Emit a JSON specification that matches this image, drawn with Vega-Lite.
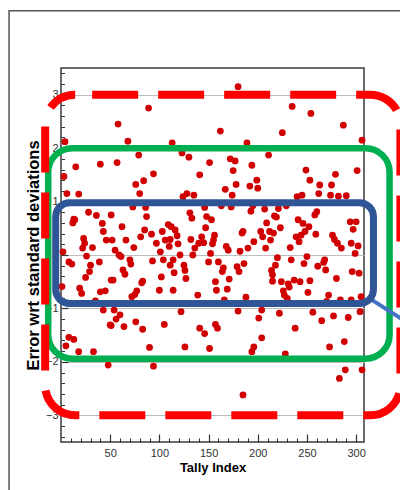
{
  "$schema": "https://vega.github.io/schema/vega-lite/v6.json",
  "width": 303,
  "height": 374,
  "autosize": {"type": "none"},
  "padding": {"left": 61, "top": 68, "right": 36, "bottom": 48},
  "background": "white",
  "config": {
    "view": {"stroke": "#3a3a3a", "strokeWidth": 1.5},
    "font": "Liberation Sans"
  },
  "resolve": {"axis": {"x": "independent", "y": "independent"}},
  "layer": [
    {
      "data": {"values": [{"name": "frame", "x1": -52.8, "x2": 365, "y1": 4.57, "y2": -4.8}]},
      "mark": {"type": "rect", "fillOpacity": 0, "stroke": "#555555", "strokeWidth": 1.5},
      "encoding": {
        "x": {"field": "x1", "type": "quantitative", "scale": {"domain": [0, 308], "nice": false, "zero": false},
          "axis": {"orient": "bottom", "values": [10,20,30,40,60,70,80,90,110,120,130,140,160,170,180,190,210,220,230,240,260,270,280,290], "tickSize": -4, "tickColor": "#333", "labels": false, "domain": false, "grid": false, "title": null}},
        "x2": {"field": "x2"},
        "y": {"field": "y1", "type": "quantitative", "scale": {"domain": [-3.5, 3.5], "nice": false, "zero": false},
          "axis": {"orient": "left", "values": [-3.4,-3.2,-2.8,-2.6,-2.4,-2.2,-1.8,-1.6,-1.4,-1.2,-0.8,-0.6,-0.4,-0.2,0.2,0.4,0.6,0.8,1.2,1.4,1.6,1.8,2.2,2.4,2.6,2.8,3.2,3.4], "tickSize": -3.5, "tickColor": "#333", "labels": false, "domain": false, "grid": false, "title": null}},
        "y2": {"field": "y2"}
      }
    },
    {
      "data": {"values": [
        {"tally":4,"error":2.12},{"tally":15,"error":1.65},{"tally":40,"error":1.70},{"tally":3,"error":1.47},{"tally":6,"error":1.15},{"tally":18,"error":1.14},{"tally":28,"error":0.80},{"tally":13,"error":0.67},{"tally":12,"error":0.60},{"tally":14,"error":0.66},{"tally":36,"error":0.74},{"tally":42,"error":0.59},{"tally":43,"error":0.44},{"tally":23,"error":0.31},{"tally":24,"error":0.22},{"tally":22,"error":0.13},{"tally":46,"error":0.28},{"tally":32,"error":0.14},{"tally":2,"error":0.06},{"tally":8,"error":-0.13},{"tally":11,"error":-0.17},{"tally":26,"error":-0.02},{"tally":30,"error":-0.19},{"tally":39,"error":-0.13},{"tally":29,"error":-0.31},{"tally":25,"error":-0.42},{"tally":1,"error":-0.59},{"tally":19,"error":-0.62},{"tally":21,"error":-0.72},{"tally":40,"error":-0.69},{"tally":35,"error":-0.86},{"tally":45,"error":-0.67},{"tally":43,"error":-1.03},{"tally":50,"error":-1.31},{"tally":8,"error":-1.54},{"tally":13,"error":-1.58},{"tally":5,"error":-1.70},{"tally":18,"error":-1.81},{"tally":33,"error":-1.81},{"tally":48,"error":-2.06},{"tally":51,"error":-0.47},{"tally":51,"error":0.75},
        {"tally":89,"error":2.75},{"tally":58,"error":2.45},{"tally":68,"error":2.13},{"tally":79,"error":1.87},{"tally":57,"error":1.73},{"tally":94,"error":1.52},{"tally":76,"error":1.32},{"tally":84,"error":1.39},{"tally":80,"error":1.15},{"tally":73,"error":0.90},{"tally":86,"error":0.89},{"tally":87,"error":0.72},{"tally":62,"error":0.53},{"tally":85,"error":0.47},{"tally":52,"error":0.28},{"tally":66,"error":0.28},{"tally":81,"error":0.34},{"tally":92,"error":0.39},{"tally":74,"error":0.14},{"tally":55,"error":0.09},{"tally":59,"error":0.00},{"tally":61,"error":-0.03},{"tally":97,"error":0.22},{"tally":101,"error":0.06},{"tally":93,"error":-0.11},{"tally":70,"error":-0.09},{"tally":71,"error":-0.17},{"tally":63,"error":-0.28},{"tally":65,"error":-0.36},{"tally":53,"error":-0.47},{"tally":83,"error":-0.49},{"tally":82,"error":-0.52},{"tally":77,"error":-0.67},{"tally":75,"error":-0.74},{"tally":72,"error":-0.78},{"tally":100,"error":-0.66},{"tally":54,"error":-1.03},{"tally":60,"error":-1.12},{"tally":56,"error":-1.20},{"tally":51,"error":-1.32},{"tally":64,"error":-1.34},{"tally":76,"error":-1.25},{"tally":83,"error":-1.39},{"tally":90,"error":-1.73},{"tally":94,"error":-2.08},
        {"tally":113,"error":2.10},{"tally":123,"error":1.91},{"tally":130,"error":1.83},{"tally":151,"error":1.73},{"tally":141,"error":1.50},{"tally":128,"error":1.15},{"tally":124,"error":1.09},{"tally":135,"error":1.12},{"tally":146,"error":0.89},{"tally":131,"error":0.79},{"tally":133,"error":0.69},{"tally":148,"error":0.72},{"tally":109,"error":0.57},{"tally":112,"error":0.53},{"tally":116,"error":0.47},{"tally":103,"error":0.44},{"tally":106,"error":0.28},{"tally":118,"error":0.36},{"tally":119,"error":0.21},{"tally":111,"error":0.29},{"tally":110,"error":0.16},{"tally":147,"error":0.51},{"tally":143,"error":0.34},{"tally":140,"error":0.22},{"tally":145,"error":0.23},{"tally":132,"error":0.29},{"tally":136,"error":0.13},{"tally":134,"error":0.00},{"tally":121,"error":0.00},{"tally":104,"error":-0.09},{"tally":114,"error":-0.09},{"tally":111,"error":-0.19},{"tally":125,"error":-0.19},{"tally":126,"error":-0.29},{"tally":127,"error":-0.44},{"tally":150,"error":-0.13},{"tally":115,"error":-0.33},{"tally":102,"error":-0.41},{"tally":114,"error":-0.66},{"tally":139,"error":-0.75},{"tally":122,"error":-1.06},{"tally":105,"error":-1.30},{"tally":141,"error":-1.37},{"tally":146,"error":-1.47},{"tally":126,"error":-1.72},{"tally":151,"error":-1.75},
        {"tally":180,"error":3.15},{"tally":162,"error":2.32},{"tally":189,"error":2.10},{"tally":172,"error":1.80},{"tally":177,"error":1.76},{"tally":194,"error":1.68},{"tally":175,"error":1.58},{"tally":199,"error":1.40},{"tally":167,"error":1.23},{"tally":178,"error":1.32},{"tally":192,"error":1.29},{"tally":200,"error":1.25},{"tally":174,"error":1.12},{"tally":173,"error":0.90},{"tally":193,"error":0.82},{"tally":195,"error":0.92},{"tally":163,"error":0.92},{"tally":153,"error":0.66},{"tally":185,"error":0.44},{"tally":184,"error":0.41},{"tally":156,"error":0.37},{"tally":155,"error":0.28},{"tally":154,"error":0.21},{"tally":196,"error":0.25},{"tally":190,"error":0.13},{"tally":168,"error":0.16},{"tally":170,"error":0.09},{"tally":182,"error":0.07},{"tally":152,"error":0.03},{"tally":160,"error":-0.13},{"tally":165,"error":-0.24},{"tally":164,"error":-0.31},{"tally":179,"error":-0.22},{"tally":181,"error":-0.31},{"tally":186,"error":-0.16},{"tally":171,"error":-0.45},{"tally":157,"error":-0.50},{"tally":158,"error":-0.66},{"tally":169,"error":-0.64},{"tally":166,"error":-0.84},{"tally":188,"error":-0.79},{"tally":180,"error":-1.05},{"tally":201,"error":-1.18},{"tally":157,"error":-1.30},{"tally":159,"error":-1.37},{"tally":204,"error":-1.55},{"tally":196,"error":-1.72},{"tally":194,"error":-1.81},{"tally":185,"error":-2.62},
        {"tally":235,"error":2.78},{"tally":254,"error":2.65},{"tally":225,"error":2.29},{"tally":211,"error":1.87},{"tally":249,"error":1.59},{"tally":253,"error":1.40},{"tally":240,"error":1.09},{"tally":245,"error":1.12},{"tally":207,"error":0.86},{"tally":221,"error":0.87},{"tally":229,"error":0.92},{"tally":217,"error":0.73},{"tally":219,"error":0.71},{"tally":209,"error":0.60},{"tally":241,"error":0.66},{"tally":223,"error":0.51},{"tally":203,"error":0.44},{"tally":205,"error":0.34},{"tally":212,"error":0.44},{"tally":216,"error":0.41},{"tally":213,"error":0.28},{"tally":246,"error":0.59},{"tally":248,"error":0.44},{"tally":244,"error":0.37},{"tally":239,"error":0.34},{"tally":242,"error":0.25},{"tally":208,"error":0.13},{"tally":233,"error":0.14},{"tally":252,"error":0.53},{"tally":220,"error":-0.05},{"tally":218,"error":-0.19},{"tally":234,"error":-0.09},{"tally":247,"error":-0.16},{"tally":250,"error":-0.03},{"tally":214,"error":-0.29},{"tally":215,"error":-0.37},{"tally":215,"error":-0.49},{"tally":237,"error":-0.47},{"tally":231,"error":-0.54},{"tally":232,"error":-0.60},{"tally":243,"error":-0.50},{"tally":253,"error":-0.48},{"tally":251,"error":-0.70},{"tally":224,"error":-0.50},{"tally":226,"error":-0.67},{"tally":227,"error":-0.75},{"tally":230,"error":-0.81},{"tally":204,"error":-1.03},{"tally":222,"error":-1.09},{"tally":238,"error":-1.37},{"tally":228,"error":-1.85},{"tally":258,"error":-3.00},
        {"tally":287,"error":2.43},{"tally":306,"error":2.15},{"tally":301,"error":1.58},{"tally":279,"error":1.51},{"tally":263,"error":1.31},{"tally":275,"error":1.31},{"tally":262,"error":1.15},{"tally":274,"error":1.12},{"tally":282,"error":1.10},{"tally":290,"error":1.11},{"tally":260,"error":0.81},{"tally":258,"error":0.75},{"tally":259,"error":0.39},{"tally":294,"error":0.62},{"tally":300,"error":0.62},{"tally":297,"error":0.48},{"tally":276,"error":0.37},{"tally":278,"error":0.29},{"tally":281,"error":0.22},{"tally":285,"error":0.13},{"tally":295,"error":0.22},{"tally":302,"error":0.17},{"tally":299,"error":0.03},{"tally":268,"error":-0.09},{"tally":267,"error":-0.14},{"tally":261,"error":-0.21},{"tally":269,"error":-0.28},{"tally":280,"error":-0.44},{"tally":296,"error":-0.31},{"tally":303,"error":-0.34},{"tally":272,"error":-0.75},{"tally":305,"error":-0.78},{"tally":270,"error":-0.87},{"tally":284,"error":-0.84},{"tally":295,"error":-0.84},{"tally":256,"error":-1.07},{"tally":265,"error":-1.23},{"tally":277,"error":-1.14},{"tally":292,"error":-1.17},{"tally":304,"error":-1.06},{"tally":288,"error":-1.62},{"tally":273,"error":-1.72},{"tally":289,"error":-2.15},{"tally":283,"error":-2.31},{"tally":306,"error":-2.15}
      ]},
      "mark": {"type": "circle", "size": 46, "color": "#d10000", "opacity": 1},
      "encoding": {
        "x": {"field": "tally", "type": "quantitative", "scale": {"domain": [0, 308], "nice": false, "zero": false},
          "axis": {"orient": "bottom", "values": [50,100,150,200,250,300], "tickSize": -8, "tickColor": "#333", "tickWidth": 1.2, "domain": false, "grid": false, "labelPadding": 13, "labelFontSize": 11, "labelColor": "#333", "labelFont": "Liberation Sans", "title": "Tally Index", "titleFont": "Liberation Sans", "titleFontSize": 13, "titleFontWeight": "bold", "titleColor": "#000", "titlePadding": 3}},
        "y": {"field": "error", "type": "quantitative", "scale": {"domain": [-3.5, 3.5], "nice": false, "zero": false},
          "axis": {"orient": "left", "values": [-3,-2,-1,0,1,2,3], "tickSize": -7, "tickColor": "#333", "tickWidth": 1.2, "domain": false, "grid": true, "gridColor": "#bdbdbd", "gridWidth": 1, "labelPadding": 10, "labelFontSize": 11, "labelColor": "#333", "labelFont": "Liberation Sans", "title": "Error wrt standard deviations", "titleFont": "Liberation Sans", "titleFontSize": 16.5, "titleFontWeight": "bold", "titleColor": "#000", "titlePadding": 4}}
      }
    },
    {
      "data": {"values": [{"name": "two sigma", "x1": -13, "x2": 334, "y1": 2.0, "y2": -1.94}]},
      "mark": {"type": "rect", "fillOpacity": 0, "stroke": "#00b050", "strokeWidth": 6.5, "cornerRadius": 24},
      "encoding": {
        "x": {"field": "x1", "type": "quantitative", "scale": {"domain": [0, 308], "nice": false, "zero": false}, "axis": null},
        "x2": {"field": "x2"},
        "y": {"field": "y1", "type": "quantitative", "scale": {"domain": [-3.5, 3.5], "nice": false, "zero": false}, "axis": null},
        "y2": {"field": "y2"}
      }
    },
    {
      "data": {"values": [{"name": "connector", "x1": 316, "x2": 356, "y1": -0.84, "y2": -1.31}]},
      "mark": {"type": "rule", "stroke": "#4472c4", "strokeWidth": 4},
      "encoding": {
        "x": {"field": "x1", "type": "quantitative", "scale": {"domain": [0, 308], "nice": false, "zero": false}, "axis": null},
        "x2": {"field": "x2"},
        "y": {"field": "y1", "type": "quantitative", "scale": {"domain": [-3.5, 3.5], "nice": false, "zero": false}, "axis": null},
        "y2": {"field": "y2"}
      }
    },
    {
      "data": {"values": [{"name": "one sigma", "x1": -5.4, "x2": 317.6, "y1": 0.98, "y2": -0.91}]},
      "mark": {"type": "rect", "fillOpacity": 0, "stroke": "#2f5597", "strokeWidth": 7, "cornerRadius": 14},
      "encoding": {
        "x": {"field": "x1", "type": "quantitative", "scale": {"domain": [0, 308], "nice": false, "zero": false}, "axis": null},
        "x2": {"field": "x2"},
        "y": {"field": "y1", "type": "quantitative", "scale": {"domain": [-3.5, 3.5], "nice": false, "zero": false}, "axis": null},
        "y2": {"field": "y2"}
      }
    },
    {
      "data": {"values": [{"name": "three sigma", "x1": -16.1, "x2": 345, "y1": 3.0, "y2": -3.0}]},
      "mark": {"type": "rect", "fillOpacity": 0, "stroke": "#ff0000", "strokeWidth": 8, "cornerRadius": 30, "strokeDash": [46, 20], "strokeDashOffset": 49},
      "encoding": {
        "x": {"field": "x1", "type": "quantitative", "scale": {"domain": [0, 308], "nice": false, "zero": false}, "axis": null},
        "x2": {"field": "x2"},
        "y": {"field": "y1", "type": "quantitative", "scale": {"domain": [-3.5, 3.5], "nice": false, "zero": false}, "axis": null},
        "y2": {"field": "y2"}
      }
    }
  ]
}
